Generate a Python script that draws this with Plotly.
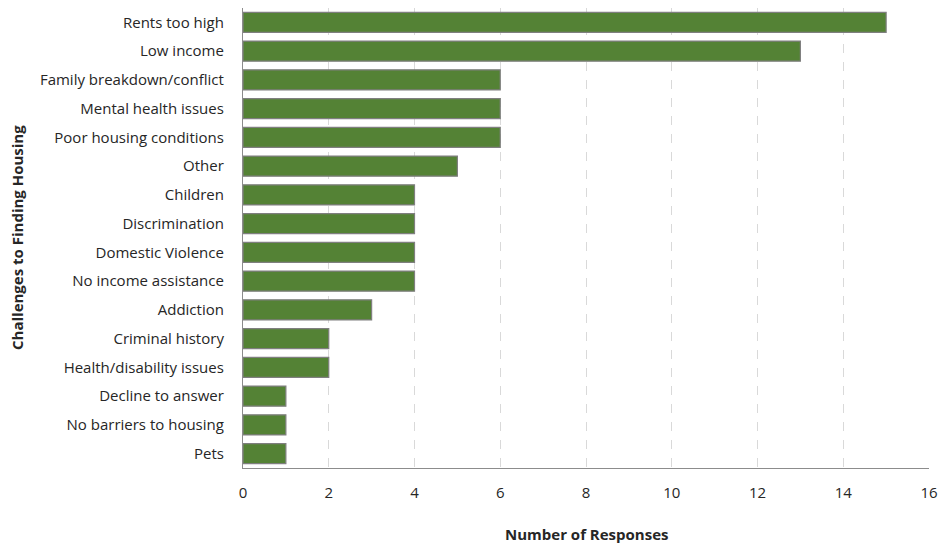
import plotly.graph_objects as go

categories = ["Rents too high", "Low income", "Family breakdown/conflict", "Mental health issues",
              "Poor housing conditions", "Other", "Children", "Discrimination", "Domestic Violence",
              "No income assistance", "Addiction", "Criminal history", "Health/disability issues",
              "Decline to answer", "No barriers to housing", "Pets"]
values = [15, 13, 6, 6, 6, 5, 4, 4, 4, 4, 3, 2, 2, 1, 1, 1]

FONT = "Open Sans, Noto Sans, sans-serif"

fig = go.Figure(go.Bar(
    x=values, y=categories, orientation="h",
    marker=dict(color="#548235", line=dict(color="#7f7f7f", width=1.2)),
    width=0.7,
))

fig.update_layout(
    width=940, height=548,
    margin=dict(l=243, r=11, t=8, b=80),
    plot_bgcolor="white", paper_bgcolor="white",
    font=dict(family=FONT, size=15, color="#262626"),
    showlegend=False,
    bargap=0.3,
)
fig.update_xaxes(
    range=[0, 16], dtick=2, showgrid=True, gridcolor="#d9d9d9", griddash="dash", gridwidth=1,
    showline=True, linecolor="#8c8c8c", linewidth=1.2, zeroline=False,
    ticks="outside", ticklen=11, tickcolor="rgba(0,0,0,0)", automargin=False,
    tickfont=dict(size=15, color="#262626"),
)
fig.update_yaxes(
    categoryorder="array", categoryarray=categories, autorange="reversed",
    showline=True, linecolor="#8c8c8c", linewidth=1.2, showgrid=False,
    ticks="outside", ticklen=15, tickcolor="rgba(0,0,0,0)", automargin=False,
    tickfont=dict(size=15, color="#262626"),
)
fig.add_annotation(text="<b>Number of Responses</b>", xref="paper", yref="paper",
                   x=0.5, y=0, yshift=-66, showarrow=False, font=dict(size=15, color="#262626"),
                   xanchor="center", yanchor="middle")
fig.add_annotation(text="<b>Challenges to Finding Housing</b>", xref="paper", yref="paper",
                   x=0, xshift=-226, y=0.5, textangle=-90, showarrow=False,
                   font=dict(size=15, color="#262626"), xanchor="center", yanchor="middle")

fig.write_html("out.html", config={"displayModeBar": False},
               post_script="document.body.style.margin='0';document.body.style.overflow='hidden';")
